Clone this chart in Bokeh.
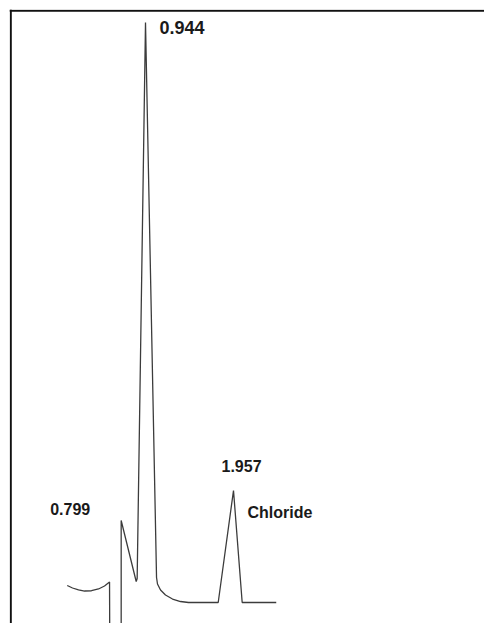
from bokeh.plotting import figure
from bokeh.models import Range1d, Span, ColumnDataSource
from bokeh.core.properties import value
from bokeh.embed import file_html
from bokeh.resources import INLINE

# Chromatogram trace: retention time (min) and detector signal (% of max peak)
time_min = [0.043, 0.104, 0.173, 0.242, 0.322, 0.403, 0.472, 0.530,
            0.535, 0.664, 0.664, 0.837, 0.848, 0.944, 1.071, 1.082,
            1.117, 1.174, 1.255, 1.347, 1.439, 1.781, 1.957, 2.057, 2.449]
signal = [2.93, 2.50, 2.16, 1.98, 2.03, 2.33, 2.84, 3.53,
          -16.9, -16.9, 14.14, 3.62, 4.14, 100.0, 4.31, 3.19,
          2.16, 1.29, 0.60, 0.17, 0.0, 0.0, 19.31, 0.0, 0.0]

# Peak annotations
label_text = ["0.944", "0.799", "1.957", "Chloride"]
label_time = [0.944, 0.664, 1.957, 1.957]
label_signal = [100.0, 14.14, 19.31, 19.31]

# styles / offsets (screen px) kept apart from data
label_dx = [14, -71, -12, 14]
label_dy = [5, -11, -25, 22]
label_size = ["18px", "16px", "16px", "16px"]

p = figure(width=484, height=623, output_backend="svg", toolbar_location=None,
           x_range=Range1d(-0.6216, 4.8464), y_range=Range1d(-3.62, 102.24),
           min_border=0, min_border_left=9, min_border_top=9,
           outline_line_color=None)
p.axis.visible = False
p.grid.visible = False
p.background_fill_color = "white"
p.border_fill_color = "white"

p.line(time_min, signal, line_color="#3c3c3c", line_width=1.3)

src = ColumnDataSource(dict(x=label_time, y=label_signal, text=label_text,
                            dx=label_dx, dy=label_dy, size=label_size))
p.text(x="x", y="y", text="text", x_offset="dx", y_offset="dy",
       text_font_size="size", source=src, text_font=value("Liberation Sans"),
       text_font_style="bold", text_color="#1a1a1a",
       text_align="left", text_baseline="alphabetic")

# frame lines (left and top only)
p.add_layout(Span(location=-0.6067, dimension="height", line_color="#111111", line_width=2))
p.add_layout(Span(location=102.02, dimension="width", line_color="#111111", line_width=2))

open("out.html", "w").write(file_html(p, INLINE))
